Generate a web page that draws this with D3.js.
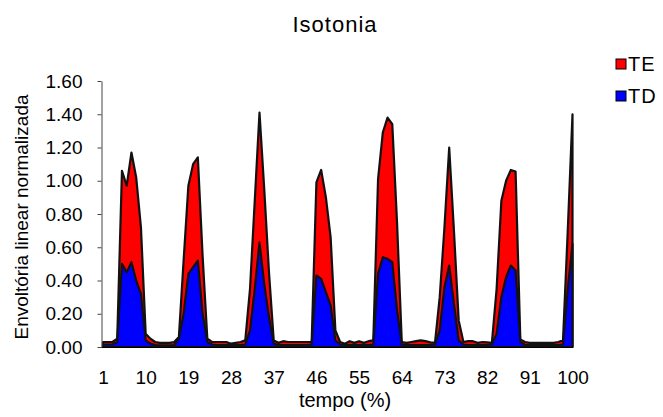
<!DOCTYPE html>
<html>
<head>
<meta charset="utf-8">
<script src="https://cdn.jsdelivr.net/npm/d3@7"></script>
<style>
  body { margin: 0; background: #fff; }
  text { font-family: Arial, "Liberation Sans", sans-serif; fill: #000; }
</style>
</head>
<body>
<div id="Areachart-div"></div>
<script>
// Constants for the chart
const CHART_WIDTH = 663;
const CHART_HEIGHT = 417;
const PLOT = { left: 101.5, x0: 103, x1: 572.5, top: 81, bottom: 347 };

const TITLE = 'Isotonia';
const Y_LABEL = 'Envoltória linear normalizada';
const X_LABEL = 'tempo (%)';

// categories: tempo 1..100 %
const tempo = d3.range(1, 101);
const xTicks = [1, 10, 19, 28, 37, 46, 55, 64, 73, 82, 91, 100];
const yTicks = [0, 0.2, 0.4, 0.6, 0.8, 1.0, 1.2, 1.4, 1.6];

const seriesNames = ['TE', 'TD'];
const seriesColors = ['#ff0000', '#0000ff'];

// TE (red, behind)
const te = [
  0.03, 0.03, 0.03, 0.05, 1.06, 0.97, 1.17, 1.02, 0.72, 0.08,
  0.05, 0.03, 0.025, 0.025, 0.025, 0.03, 0.06, 0.52, 0.97, 1.10,
  1.14, 0.55, 0.05, 0.03, 0.03, 0.03, 0.03, 0.02, 0.025, 0.03,
  0.04, 0.35, 0.88, 1.41, 0.95, 0.45, 0.04, 0.025, 0.035, 0.03,
  0.03, 0.03, 0.03, 0.03, 0.03, 0.99, 1.065, 0.90, 0.66, 0.10,
  0.03, 0.02, 0.035, 0.025, 0.035, 0.025, 0.035, 0.04, 1.01, 1.29,
  1.38, 1.34, 0.75, 0.03, 0.025, 0.03, 0.035, 0.04, 0.035, 0.028,
  0.025, 0.30, 0.72, 1.20, 0.70, 0.16, 0.03, 0.035, 0.035, 0.025,
  0.03, 0.028, 0.025, 0.35, 0.88, 1.00, 1.065, 1.055, 0.045, 0.03,
  0.025, 0.025, 0.025, 0.025, 0.025, 0.025, 0.03, 0.04, 0.70, 1.40
];

// TD (blue, front)
const td = [
  0.015, 0.015, 0.015, 0.03, 0.50, 0.45, 0.51, 0.40, 0.32, 0.04,
  0.02, 0.012, 0.01, 0.01, 0.01, 0.012, 0.05, 0.20, 0.44, 0.48,
  0.52, 0.20, 0.03, 0.015, 0.012, 0.012, 0.012, 0.012, 0.012, 0.012,
  0.015, 0.10, 0.35, 0.63, 0.38, 0.18, 0.02, 0.012, 0.012, 0.012,
  0.012, 0.012, 0.012, 0.012, 0.015, 0.43, 0.41, 0.33, 0.25, 0.04,
  0.015, 0.012, 0.012, 0.012, 0.012, 0.012, 0.012, 0.015, 0.44, 0.54,
  0.53, 0.51, 0.22, 0.015, 0.012, 0.012, 0.012, 0.012, 0.012, 0.012,
  0.015, 0.10, 0.36, 0.49, 0.26, 0.04, 0.015, 0.012, 0.012, 0.012,
  0.012, 0.012, 0.015, 0.08, 0.30, 0.42, 0.49, 0.46, 0.03, 0.012,
  0.012, 0.012, 0.012, 0.012, 0.012, 0.012, 0.012, 0.015, 0.35, 0.62
];

const svg = d3.select('#Areachart-div')
  .append('svg')
  .attr('width', CHART_WIDTH)
  .attr('height', CHART_HEIGHT);

const xScale = d3.scaleLinear()
  .domain([1, 100])
  .range([PLOT.x0, PLOT.x1]);

const yScale = d3.scaleLinear()
  .domain([0, 1.6])
  .range([PLOT.bottom, PLOT.top]);

// areas, TE first so TD overlaps it
const area = d3.area()
  .x((d, i) => xScale(tempo[i]))
  .y0(yScale(0))
  .y1(d => yScale(d));

svg.append('g')
  .attr('id', 'AreaChart')
  .selectAll('path')
  .data([te, td])
  .join('path')
  .attr('d', area)
  .attr('fill', (d, i) => seriesColors[i])
  .attr('stroke', '#111')
  .attr('stroke-width', 2.2)
  .attr('stroke-linejoin', 'round');

// y axis
const yAxis = svg.append('g')
  .attr('id', 'Areachart-y-axis')
  .attr('transform', `translate(${PLOT.left},0)`)
  .call(d3.axisLeft(yScale)
    .tickValues(yTicks)
    .tickFormat(d3.format('.2f'))
    .tickSize(4)
    .tickSizeOuter(0)
    .tickPadding(15));
yAxis.select('.domain').attr('stroke', '#444');
yAxis.selectAll('.tick line').attr('stroke', '#444');
yAxis.selectAll('text')
  .attr('font-size', 19)
  .attr('font-family', 'Arial, "Liberation Sans", sans-serif');

// x axis (no tick marks)
const xAxis = svg.append('g')
  .attr('id', 'Areachart-x-axis')
  .attr('transform', `translate(0,${PLOT.bottom})`)
  .call(d3.axisBottom(xScale)
    .tickValues(xTicks)
    .tickFormat(d3.format('d'))
    .tickSize(0)
    .tickPadding(24));
xAxis.select('.domain').remove();
xAxis.selectAll('text')
  .attr('font-size', 19)
  .attr('font-family', 'Arial, "Liberation Sans", sans-serif');

svg.append('line')
  .attr('x1', PLOT.left)
  .attr('x2', PLOT.x1 + 0.5)
  .attr('y1', PLOT.bottom + 0.5)
  .attr('y2', PLOT.bottom + 0.5)
  .attr('stroke', '#000');

// titles
svg.append('text')
  .attr('x', 335)
  .attr('y', 32)
  .attr('text-anchor', 'middle')
  .attr('font-size', 22)
  .attr('letter-spacing', 1)
  .text(TITLE);

svg.append('text')
  .attr('transform', 'translate(27.5,217) rotate(-90)')
  .attr('text-anchor', 'middle')
  .attr('font-size', 19)
  .text(Y_LABEL);

svg.append('text')
  .attr('x', 345)
  .attr('y', 407)
  .attr('text-anchor', 'middle')
  .attr('font-size', 20)
  .text(X_LABEL);

// legend
const legend = svg.append('g')
  .attr('id', 'legend')
  .selectAll('g')
  .data(seriesNames)
  .join('g')
  .attr('transform', (d, i) => `translate(616,${59 + i * 32})`);

legend.append('rect')
  .attr('width', 10)
  .attr('height', 10)
  .attr('fill', (d, i) => seriesColors[i])
  .attr('stroke', '#000')
  .attr('stroke-width', 1);

legend.append('text')
  .attr('x', 12)
  .attr('y', 11.5)
  .attr('font-size', 20)
  .attr('letter-spacing', 1)
  .text(d => d);
</script>
</body>
</html>
